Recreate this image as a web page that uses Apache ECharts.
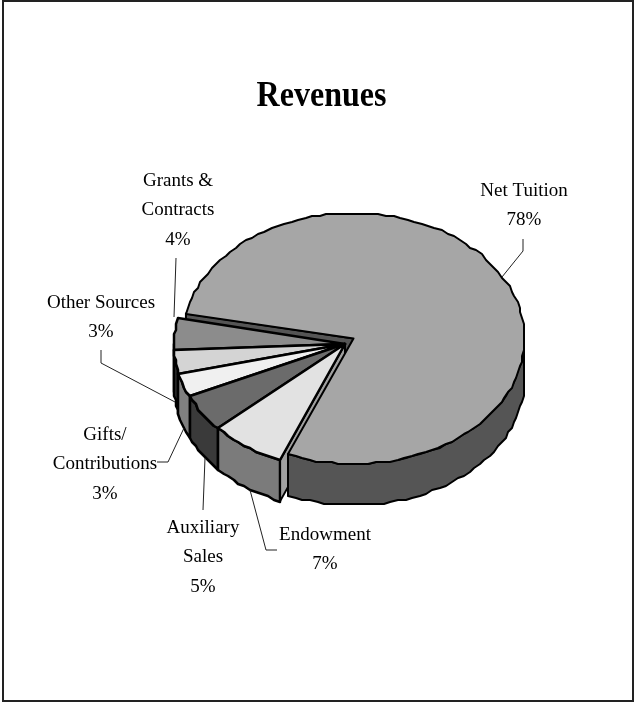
<!DOCTYPE html>
<html>
<head>
<meta charset="utf-8">
<style>html,body{margin:0;padding:0;background:#fff}#chart{width:636px;height:702px}</style>
<script src="https://cdn.jsdelivr.net/npm/echarts@6/dist/echarts.min.js"></script>
</head>
<body>
<div id="chart"></div>
<script>
// Revenue shares, percent. Order runs counter-clockwise from the Grants slice.
const chartTitle = 'Revenues';
const categories = ['Grants &\nContracts', 'Other Sources', 'Gifts/\nContributions', 'Auxiliary\nSales', 'Endowment', 'Net Tuition'];
const shares = [4, 3, 3, 5, 7, 78];
const topColors = ['#8c8c8c', '#d4d4d4', '#f0f0f0', '#6b6b6b', '#e2e2e2', '#a6a6a6'];
const sideColors = ['#444444', '#333333', '#808080', '#3a3a3a', '#7b7b7b', '#555555'];

// Where each label sits: centre x, first-line y, and the leader line back to the slice.
const labelCentres = [[178, 180], [101, 302], [105, 434], [203, 527], [325, 534], [524, 190]];
const leaders = [
  [[176, 258], [174, 317]],
  [[101, 350], [101, 363], [175, 402]],
  [[157, 462], [168, 462], [184, 428]],
  [[203, 510], [205, 458]],
  [[277, 550], [266, 550], [250, 490]],
  [[523, 239], [523, 251], [502, 277]]
];

const START_DEG = 168.5;     // edge shared by Net Tuition and Grants
const DEPTH = 41 / 125.5;    // rim height in axis units
const TUITION_SHIFT = [8.5 / 171, 5.5 / 125.5]; // the large slice is pulled out up and to the right
const SNAP = 2;              // edges are traced on a coarse pixel lattice

// Angular extent of each slice in degrees.
const arcs = [];
shares.reduce((from, v) => {
  const to = from + v / 100 * 360;
  arcs.push([from, to]);
  return to;
}, START_DEG);

const snap = p => [Math.round(p[0] / SNAP) * SNAP, Math.round(p[1] / SNAP) * SNAP];

function rim(api, from, to, off, drop) {
  const pts = [];
  const n = Math.max(1, Math.ceil((to - from) / 2.5));
  for (let i = 0; i <= n; i++) {
    const t = (from + (to - from) * i / n) * Math.PI / 180;
    pts.push(snap(api.coord([Math.cos(t) + off[0], Math.sin(t) + off[1] - drop])));
  }
  return pts;
}

const poly = (points, fill, lineWidth) => ({
  type: 'polygon',
  shape: { points },
  style: { fill, stroke: '#000', lineWidth: lineWidth || 2, lineJoin: 'round' }
});

function sidePart(api, i, off) {
  // Only the front half of the rim, 180 to 360 degrees, faces the viewer.
  const from = Math.max(arcs[i][0] % 360, 180);
  const end = arcs[i][1] > 360 ? 360 : arcs[i][1];
  if (end <= from) return null;
  const upper = rim(api, from, end, off, 0);
  const lower = rim(api, from, end, off, DEPTH).reverse();
  return poly(upper.concat(lower), sideColors[i], i === TUITION ? 2 : 2.5);
}

function topPart(api, i, off) {
  const apex = api.coord([off[0], off[1]]);
  return poly([apex].concat(rim(api, arcs[i][0], arcs[i][1], off, 0)), topColors[i], i === TUITION ? 2 : 2.5);
}

// Flat cut face running from the centre out to the rim at the given angle.
function wall(api, deg, off, fill) {
  const t = deg * Math.PI / 180;
  const edge = [Math.cos(t) + off[0], Math.sin(t) + off[1]];
  const a = api.coord([off[0], off[1]]);
  const b = api.coord(edge);
  const c = api.coord([edge[0], edge[1] - DEPTH]);
  const d = api.coord([off[0], off[1] - DEPTH]);
  return poly([a, b, c, d], fill);
}

const NO_SHIFT = [0, 0];
const TUITION = shares.length - 1;

const hiddenAxis = { type: 'value', min: -1, max: 1, show: false };

const option = {
  animation: false,
  backgroundColor: '#fff',
  grid: { left: 174, top: 218.5, width: 342, height: 251 },
  xAxis: hiddenAxis,
  yAxis: hiddenAxis,
  series: [
    {
      // Cut face of the large slice, mostly hidden behind the small ones.
      type: 'custom', z: 1, silent: true, data: [[0]],
      renderItem: (p, api) => wall(api, START_DEG, TUITION_SHIFT, sideColors[TUITION])
    },
    {
      // The five small slices, rim first and then the top.
      type: 'custom', z: 2, silent: true, data: shares.slice(0, TUITION).map((v, i) => [i, v]),
      renderItem: (p, api) => {
        const i = p.dataIndex;
        const children = [];
        const s = sidePart(api, i, NO_SHIFT);
        if (s) children.push(s);
        if (i === TUITION - 1) children.push(wall(api, arcs[i][1], NO_SHIFT, '#a0a0a0'));
        children.push(topPart(api, i, NO_SHIFT));
        return { type: 'group', children };
      }
    },
    {
      // The large slice goes last so that it overlaps the cut face beside it.
      type: 'custom', z: 3, silent: true, data: [[TUITION, shares[TUITION]]],
      renderItem: (p, api) => ({
        type: 'group',
        children: [sidePart(api, TUITION, TUITION_SHIFT), topPart(api, TUITION, TUITION_SHIFT)]
      })
    }
  ],
  graphic: [
    { type: 'rect', shape: { x: 3, y: 1, width: 630, height: 700 },
      style: { fill: 'none', stroke: '#222', lineWidth: 2 }, z: 0 },
    { type: 'text', x: 321.5, y: 97, scaleX: 0.915, z: 6,
      style: {
        text: chartTitle,
        fontFamily: 'Liberation Serif', fontSize: 35, fontWeight: 'bold',
        fill: '#000', align: 'center', verticalAlign: 'middle'
      }
    },
    ...leaders.map(points => ({
      type: 'polyline', shape: { points }, z: 5,
      style: { fill: 'none', stroke: '#222', lineWidth: 1 }
    })),
    ...categories.map((c, i) => ({
      type: 'text', x: labelCentres[i][0], y: labelCentres[i][1] - 14, z: 6,
      style: {
        text: c + '\n' + shares[i] + '%',
        fontFamily: 'Liberation Serif', fontSize: 19, lineHeight: 29.5,
        fill: '#000', align: 'center', verticalAlign: 'top'
      }
    }))
  ]
};

echarts.init(document.getElementById('chart')).setOption(option);
</script>
</body>
</html>
